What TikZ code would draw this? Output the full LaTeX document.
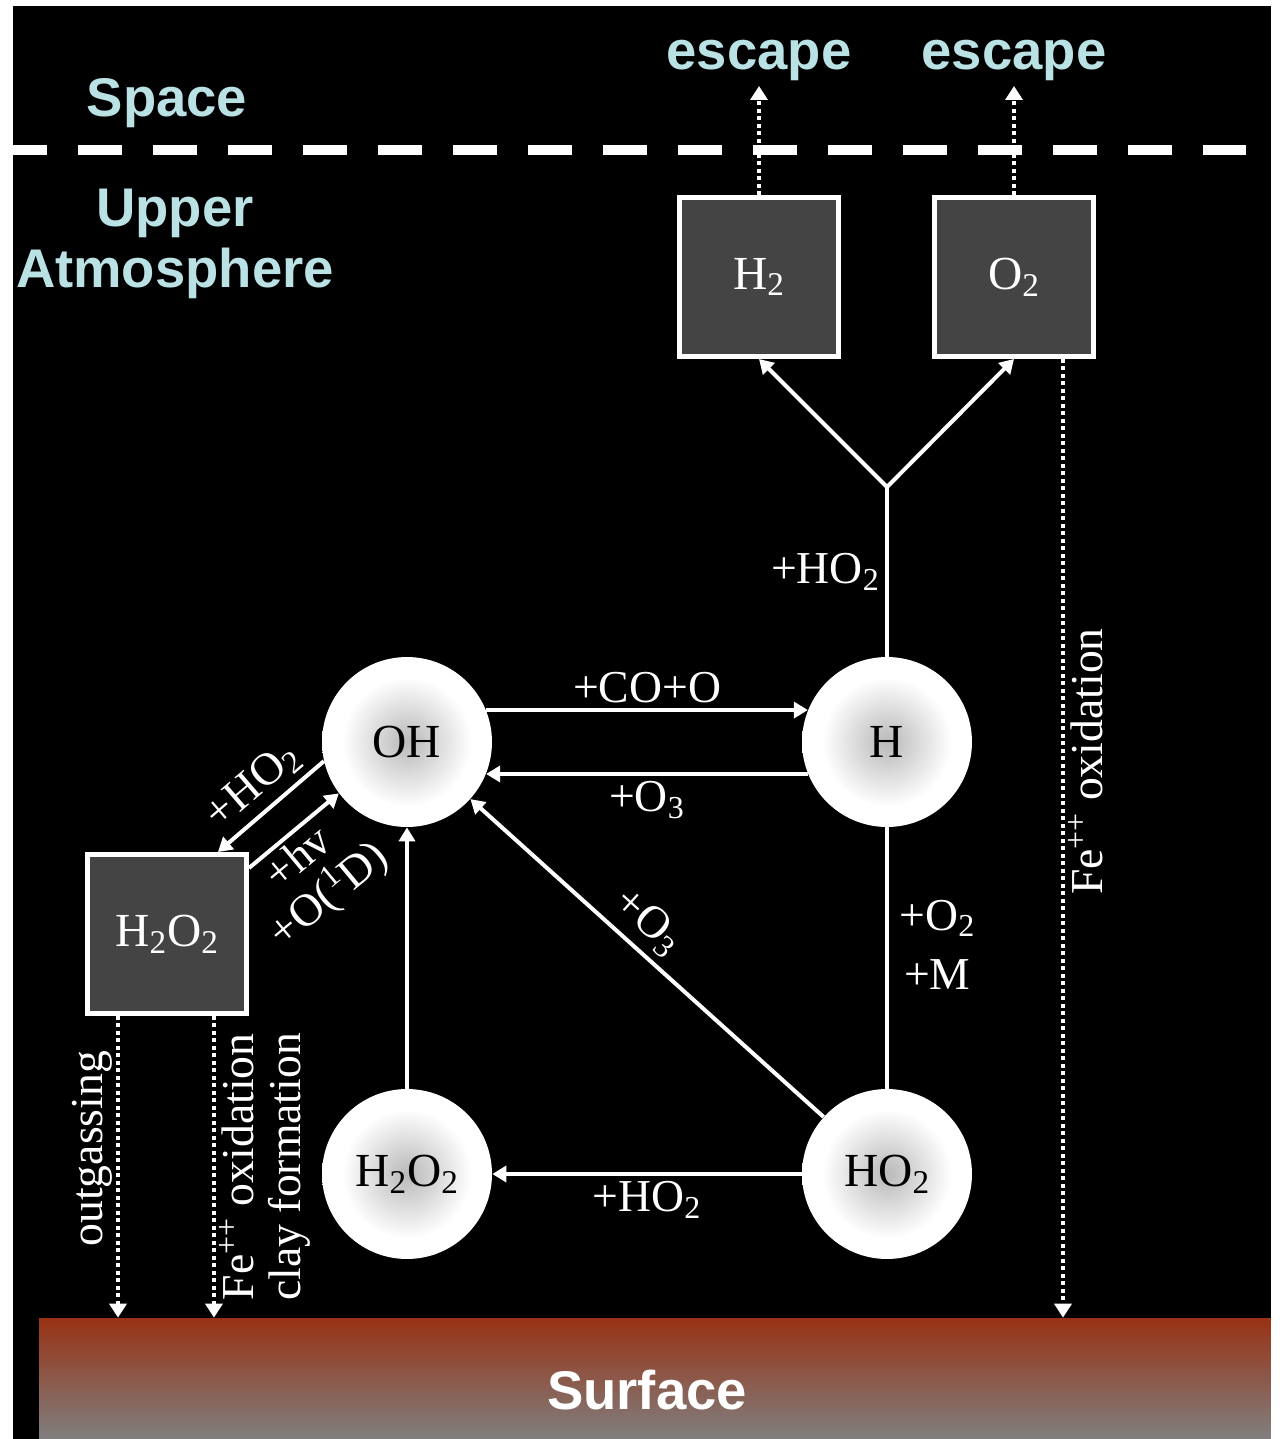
\documentclass[tikz,border=0pt]{standalone}
\usepackage{fontspec}
\setmainfont{Liberation Serif}
\newfontfamily\zonefont{Liberation Sans}
\usetikzlibrary{arrows.meta, positioning, calc}

\definecolor{skyblue}{RGB}{186,225,228}
\definecolor{rust}{RGB}{152,50,20}
\definecolor{boxgray}{RGB}{68,68,68}

\pgfdeclareradialshading{ballshade}{\pgfpoint{0bp}{0bp}}{color(0bp)=(black!27); color(4bp)=(black!22); color(19bp)=(white); color(50bp)=(white)}

\begin{document}
\begin{tikzpicture}[
        x=0.02cm, y=-0.02cm,
        ball/.style={circle, minimum size=3.4cm, inner sep=0pt, shading=ballshade, font=\fontsize{27}{30}\selectfont, text=black},
        reservoir/.style={rectangle, draw=white, line width=0.1cm, fill=boxgray, minimum size=3.18cm, inner sep=0pt, font=\fontsize{27}{30}\selectfont, text=white},
        flow/.style={-{Triangle[length=0.28cm, width=0.32cm]}, line width=0.08cm, draw=white},
        link/.style={line width=0.08cm, draw=white},
        leak/.style={-{Triangle[length=0.28cm, width=0.34cm]}, line width=0.08cm, draw=white, dash pattern=on 0.08cm off 0.07cm},
        note/.style={font=\fontsize{26}{27}\selectfont, text=white, inner sep=2pt},
        zone/.style={font=\zonefont\bfseries\fontsize{31}{35}\selectfont, text=skyblue, align=center}
    ]
        \useasboundingbox (0,0) rectangle (1280,1439);
        \fill[white] (0,0) rectangle (1280,1439);
        \fill[black] (13,6) rectangle (1271,1439);
        \node[rectangle, minimum width=24.64cm, minimum height=2.42cm, inner sep=0pt, top color=rust, bottom color=black!50] (surf) at (655,1378.5) {};
        \node[zone, text=white] at (647,1390) {Surface};
        % layers
        \node[zone] at (167,103) {Space};
        \node[zone] at (175,244) {Upper\\Atmosphere};
        \node[zone] (esc1) at (759,60) {escape};
        \node[zone] (esc2) at (1014,60) {escape};
        \coordinate (h2esc) at (759,86);
        \coordinate (o2esc) at (1014,86);
        % species
        \node[ball] (oh) at (407,742) {OH};
        \node[ball] (hatom) at (887,742) {H};
        \node[ball] (h2o2) at (407,1174) {H\textsubscript{2}O\textsubscript{2}};
        \node[ball] (ho2) at (887,1174) {HO\textsubscript{2}};
        \node[reservoir] (h2box) at (759,277) {H\textsubscript{2}};
        \node[reservoir] (o2box) at (1014,277) {O\textsubscript{2}};
        \node[reservoir] (h2o2box) at (167,934) {H\textsubscript{2}O\textsubscript{2}};
        \coordinate (fork) at (887,487);
        % reactions
        \draw[flow] (oh.22) -- (hatom.158) node[midway, above=1pt, note] {+CO+O};
        \draw[flow] (hatom.202) -- (oh.338) node[midway, below=1pt, note] {+O\textsubscript{3}};
        \draw[flow] (h2o2) -- (oh);
        \draw[flow] (ho2) -- (oh) node[pos=0.55, sloped, above=2pt, note] {+O\textsubscript{3}};
        \draw[flow] (ho2) -- (h2o2) node[midway, below=1pt, note] {+HO\textsubscript{2}};
        \draw[link] (hatom) -- (ho2) node[pos=0.45, right=4pt, note, align=center, font=\fontsize{26}{34}\selectfont] {+O\textsubscript{2}\\+M};
        \draw[link] (hatom) -- (fork) node[midway, left=1pt, note] {+HO\textsubscript{2}};
        \draw[flow] (fork) -- (h2box.south);
        \draw[flow] (fork) -- (o2box.south);
        \draw[flow] (oh.193) -- ([xshift=1.02cm]h2o2box.north) node[midway, sloped, above=2pt, note] {+HO\textsubscript{2}};
        \draw[flow] ([yshift=1.32cm]h2o2box.east) -- (oh.217) node[pos=0.38, sloped, below=0pt, note, align=center] {+hv\\+O(\textsuperscript{1}D)};
        % boundary
        \draw[white, line width=0.2cm, dash pattern=on 0.88cm off 0.62cm, dash phase=0.2cm] (13,150) -- (1246,150);
        % escape and loss
        \draw[leak] (h2box.north) -- (h2esc);
        \draw[leak] (o2box.north) -- (o2esc);
        \draw[leak] ([xshift=0.98cm]o2box.south) -- ([xshift=0.98cm]o2box.south |- surf.north) node[pos=0.42, rotate=90, anchor=north, note] {Fe\textsuperscript{++} oxidation};
        \draw[leak] ([xshift=-0.98cm]h2o2box.south) -- ([xshift=-0.98cm]h2o2box.south |- surf.north) node[pos=0.44, rotate=90, anchor=south, note] {outgassing};
        \draw[leak] ([xshift=0.94cm]h2o2box.south) -- ([xshift=0.94cm]h2o2box.south |- surf.north) node[pos=0.5, rotate=90, anchor=north, note, align=center] {Fe\textsuperscript{++} oxidation\\clay formation};
    \end{tikzpicture}
\end{document}
